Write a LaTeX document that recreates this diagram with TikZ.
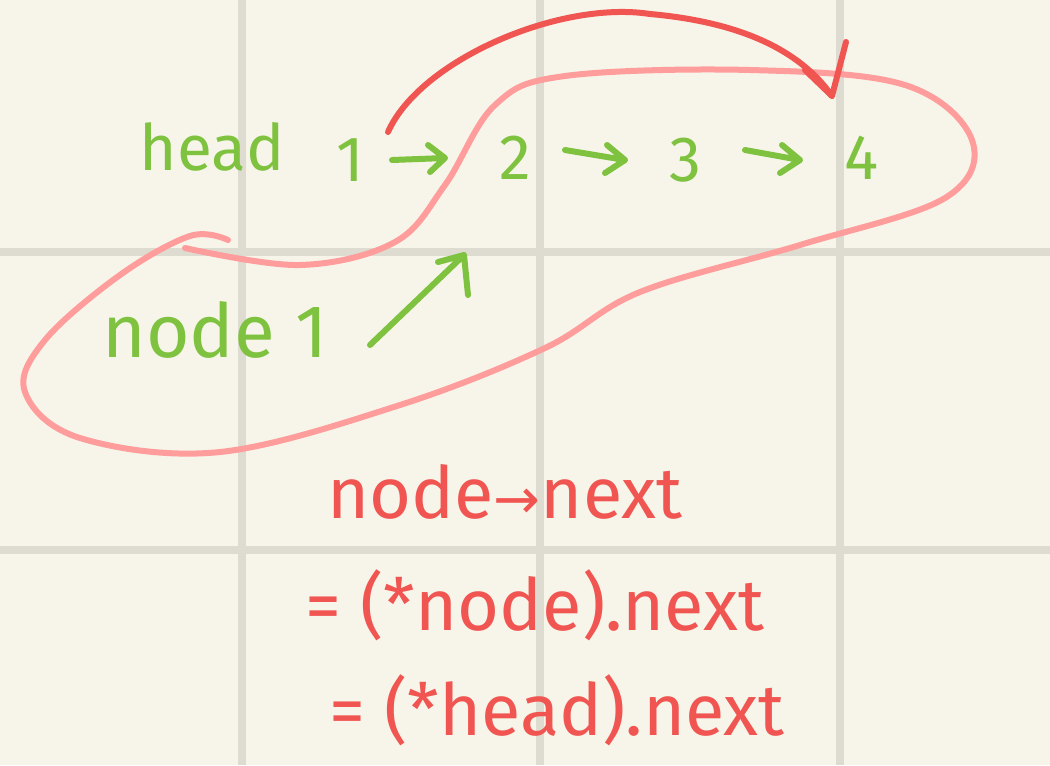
\documentclass[tikz,border=0pt]{standalone}
\usepackage{fontspec}
\setmainfont{Fira Sans}
\newfontfamily\symf{DejaVu Sans}
\definecolor{bg}{HTML}{F7F5E9}
\definecolor{gridc}{HTML}{DEDCD0}
\definecolor{grn}{HTML}{7EC23F}
\definecolor{rd}{HTML}{F05552}
\definecolor{pk}{HTML}{FF9C9C}
\tikzset{
  gline/.style={gridc,line width=5.5pt},
  gtxt/.style={text=grn,font=\fontsize{48}{52}\selectfont,inner sep=0pt},
  rtxt/.style={text=rd,font=\fontsize{54}{58}\selectfont,inner sep=0pt},
  gstroke/.style={grn,line width=4.5pt,line cap=round,line join=round},
  rstroke/.style={rd,line width=4.5pt,line cap=round,line join=round},
  pstroke/.style={pk,line width=4.5pt,line cap=round,line join=round},
}
\begin{document}
\begin{tikzpicture}[x=0.75pt,y=-0.75pt]
\fill[bg] (0,0) rectangle (1050,765);
\useasboundingbox (0,0) rectangle (1050,765);
% grid
\foreach \x in {242,540,840} \draw[gline] (\x,0) -- (\x,765);
\foreach \y in {252,550} \draw[gline] (0,\y) -- (1050,\y);
% pink loop
\draw[pstroke] plot[smooth,tension=0.6] coordinates {(228,240) (190,236) (120,275) (45,340) (25,392) (80,438) (220,452) (400,405) (545,348) (640,292) (800,245) (945,198) (972,140) (905,85) (750,70) (565,76) (495,105) (445,185) (395,242) (300,265) (185,248)};
% green text
\node[gtxt] (head) at (212,147) {head};
\node[gtxt] (n1) at (350,160) {1};
\node[gtxt] (n2) at (515,158) {2};
\node[gtxt] (n3) at (685,160) {3};
\node[gtxt] (n4) at (862,158) {4};
\node[gtxt,font=\fontsize{56}{60}\selectfont] (node1) at (215,330) {node 1};
% green arrows
\coordinate (a1s) at (392,160); \coordinate (a1e) at (445,158);
\draw[gstroke] (a1s) -- (a1e) (428,145) -- (a1e) -- (430,172);
\coordinate (a2s) at (565,150); \coordinate (a2e) at (625,160);
\draw[gstroke] (a2s) -- (a2e) (607,145) -- (a2e) -- (605,173);
\coordinate (a3s) at (745,150); \coordinate (a3e) at (800,160);
\draw[gstroke] (a3s) -- (a3e) (782,145) -- (a3e) -- (780,173);
\coordinate (up1) at (370,345); \coordinate (up2) at (464,255);
\draw[gstroke] (up1) -- (up2) (438,262) -- (up2) -- (468,295);
% red curved arrow
\coordinate (rs) at (388,132); \coordinate (re) at (832,96);
\draw[rstroke] (rs) .. controls (420,60) and (560,0) .. (650,14) .. controls (740,22) and (800,50) .. (re);
\draw[rstroke] (805,70) -- (re) -- (846,42);
% red text
\node[rtxt] (t1) at (505,492) {node{\symf\fontsize{42}{42}\selectfont →}next};
\node[rtxt] (t2) at (535,605) {= (*node).next};
\node[rtxt] (t3) at (557,710) {= (*head).next};
\end{tikzpicture}
\end{document}
